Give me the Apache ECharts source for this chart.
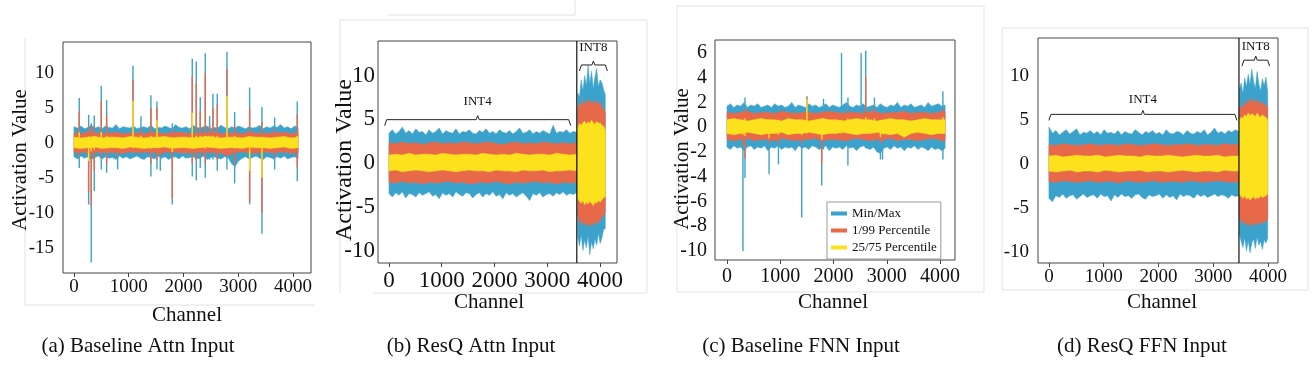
<!DOCTYPE html>
<html><head><meta charset="utf-8">
<script src="https://cdn.jsdelivr.net/npm/echarts@6/dist/echarts.min.js"></script>
<style>html,body{margin:0;padding:0;background:#fff;}#c{width:1316px;height:370px;}</style>
</head><body><div id="c"></div>
<script>
// ---------------- DATA ----------------
const statNames = ['Min/Max', '1/99 Percentile', '25/75 Percentile'];
const xTicks = [0, 1000, 2000, 3000, 4000];
const yTicksA = [-15, -10, -5, 0, 5, 10];
const yTicksB = [-10, -5, 0, 5, 10];
const yTicksC = [-10, -8, -6, -4, -2, 0, 2, 4, 6];
const yTicksD = [-10, -5, 0, 5, 10];
const captions = ['(a) Baseline Attn Input', '(b) ResQ Attn Input', '(c) Baseline FNN Input', '(d) ResQ FFN Input'];

// (a) Baseline Attn Input, channels 0..4095
const A_max = [2.3,2.1,2.4,2.0,2.2,2.5,2.1,2.3,2.0,2.4,2.2,2.1,2.6,2.0,2.3,2.2,2.1,2.4,2.0,2.2,2.3,2.1,2.5,2.0,2.2,2.1,2.4,2.2,2.0,2.6,2.2,2.1,2.3,2.0,2.5,2.2,2.1,2.3,2.4,2.0,2.2,2.1,2.5,2.2,2.0,2.3,2.1,2.4,2.2,2.0,2.3,2.1,2.2,2.5,2.0,2.3,2.1,2.4,2.2,2.6,2.1,2.3,2.0,2.4,2.2];
const A_min = [-2.0,-2.3,-1.9,-2.2,-2.0,-2.4,-2.1,-1.9,-2.3,-2.0,-2.2,-2.1,-2.4,-1.9,-2.2,-2.0,-2.3,-2.1,-1.9,-2.2,-2.4,-2.0,-2.1,-2.3,-1.9,-2.2,-2.0,-2.4,-2.1,-2.0,-2.3,-1.9,-2.2,-2.1,-2.0,-2.3,-2.2,-1.9,-2.4,-2.1,-2.0,-2.2,-2.3,-2.0,-2.1,-3.0,-3.4,-2.6,-2.2,-2.0,-2.3,-2.1,-1.9,-2.2,-2.4,-2.0,-2.1,-2.3,-2.0,-2.2,-1.9,-2.3,-2.1,-2.0,-2.2];
const A_p99 = [1.4,1.3,1.5,1.4,1.3,1.4,1.5,1.3,1.4,1.4,1.3,1.5,1.4,1.3,1.4,1.5,1.4,1.3,1.4,1.4,1.5,1.3,1.4,1.4,1.3,1.5,1.4,1.3,1.4,1.4,1.5,1.3,1.4];
const A_p1 = [-1.4,-1.3,-1.5,-1.4,-1.3,-1.4,-1.4,-1.5,-1.3,-1.4,-1.4,-1.3,-1.5,-1.4,-1.3,-1.4,-1.5,-1.4,-1.3,-1.4,-1.4,-1.5,-1.8,-1.4,-1.3,-1.4,-1.5,-1.3,-1.4,-1.4,-1.3,-1.5,-1.4];
const A_p75 = [0.8,0.7,0.8,0.9,0.7,0.8,0.8,0.7,0.9,0.8,0.7,0.8,0.8,0.9,0.7,0.8,0.8,0.7,0.8,0.9,0.8,0.7,0.8,0.8,0.7,0.9,0.8,0.8,0.7,0.8,0.9,0.7,0.8];
const A_p25 = [-0.7,-0.8,-0.7,-0.6,-0.8,-0.7,-0.7,-0.8,-0.6,-0.7,-0.8,-0.7,-0.7,-0.6,-0.8,-0.7,-0.7,-0.8,-0.7,-0.6,-0.7,-0.8,-0.7,-0.7,-0.8,-0.6,-0.7,-0.7,-0.8,-0.7,-0.6,-0.8,-0.7];
// outlier channels: [channel, min, p1, p25, p75, p99, max]
const A_spikes = [
  [97,-3.6,-2.0,-0.8,1.5,4.5,6.4],[268,-8.8,-7.0,-2.6,0.9,2.5,4.0],[316,-17.1,-9.0,-1.2,0.8,2.0,2.8],
  [371,-6.9,-4.0,-1.0,1.0,2.5,3.9],[499,-3.8,-2.0,-0.8,1.5,6.0,8.1],[597,-4.3,-3.0,-0.8,1.0,4.0,6.1],
  [798,-3.8,-2.0,-0.7,0.8,1.5,2.2],[1078,-1.8,-1.4,-0.7,6.0,9.0,11.0],[1224,-2.2,-1.4,-0.7,1.0,2.0,3.8],
  [1406,-4.8,-3.0,-0.8,1.0,5.0,6.8],[1516,-3.8,-2.5,-0.7,3.3,5.0,5.9],[1577,-4.0,-2.0,-0.7,0.8,1.5,2.2],
  [1796,-8.8,-8.0,-1.3,0.8,2.0,2.8],[2161,-4.8,-3.0,-0.8,4.3,9.5,12.0],[2234,-5.4,-2.5,-0.7,1.0,8.5,11.6],
  [2307,-3.6,-2.0,-0.7,1.0,4.5,6.5],[2399,-5.0,-3.0,-0.8,1.0,10.0,12.8],[2478,-2.4,-1.5,-0.7,1.0,2.5,3.8],
  [2539,-2.4,-1.5,-0.7,1.0,5.0,7.0],[2618,-4.0,-2.5,-0.7,1.0,5.5,7.0],[2795,-3.8,-2.0,-0.8,6.7,10.5,13.0],
  [2935,-5.8,-3.0,-0.8,1.0,2.5,4.4],[3209,-8.8,-8.5,-4.0,0.8,5.0,7.9],[3434,-13.0,-10.0,-5.0,0.8,3.0,5.1],
  [3666,-3.8,-2.0,-0.7,0.8,2.0,3.6],[4079,-5.5,-3.5,-0.7,1.0,4.0,5.9]
];

// (b) ResQ Attn Input: INT4 part and INT8 part
const B4_max = [3.4,3.8,3.3,3.6,4.1,3.4,3.7,3.3,3.9,3.5,3.6,3.2,3.8,3.4,3.6,4.0,3.3,3.7,3.5,3.4,3.9,3.3,3.6,3.5,3.8,3.4,3.3,3.7,3.5,3.9,3.4,3.6,3.3,3.8,3.5,3.4,3.7,3.3,3.6,4.0,3.4,3.5,3.8,3.3,3.6,3.4,3.7,3.5,3.3,4.3,3.4,3.6,3.5,3.8,3.4,3.6,3.5];
const B4_min = [-3.5,-3.9,-3.4,-3.7,-3.3,-4.0,-3.5,-3.6,-3.9,-3.4,-3.7,-3.5,-3.3,-3.8,-3.6,-4.1,-3.4,-3.7,-3.5,-3.9,-3.3,-3.6,-3.8,-3.4,-3.5,-4.0,-3.6,-3.4,-3.9,-3.5,-3.7,-3.3,-3.8,-3.6,-4.1,-3.4,-3.7,-3.5,-3.9,-3.6,-3.4,-3.8,-4.3,-3.5,-3.7,-3.4,-3.9,-3.6,-3.5,-3.8,-3.4,-3.6,-3.3,-3.7,-3.5,-3.6,-3.4];
const B4_p99 = [2.3,2.2,2.4,2.2,2.3,2.1,2.3,2.4,2.2,2.3,2.2,2.4,2.3,2.2,2.3,2.4,2.2,2.1,2.3,2.4,2.2,2.3,2.2,2.4,2.3,2.2,2.3,2.2,2.3];
const B4_p1 = [-2.2,-2.3,-2.1,-2.3,-2.2,-2.4,-2.2,-2.3,-2.2,-2.1,-2.3,-2.2,-2.4,-2.3,-2.2,-2.3,-2.1,-2.3,-2.4,-2.2,-2.3,-2.2,-2.1,-2.3,-2.2,-2.4,-2.2,-2.3,-2.2];
const B4_p75 = [0.9,1.0,0.9,1.1,0.9,1.0,1.0,0.9,1.1,1.0,0.9,1.0,1.0,0.9,1.1,1.0,0.9,1.0,0.9,1.1,1.0,0.9,1.0,1.0,0.9,1.1,1.0,0.9,1.0];
const B4_p25 = [-0.9,-0.8,-1.0,-0.9,-0.8,-0.9,-1.0,-0.9,-0.8,-0.9,-1.0,-0.9,-0.8,-0.9,-0.9,-1.0,-0.8,-0.9,-0.9,-1.0,-0.8,-0.9,-0.9,-0.8,-1.0,-0.9,-0.9,-0.8,-0.9];
const B8_max = [8.0,7.5,9.5,8.2,10.0,8.8,11.2,9.0,10.5,8.5,9.8,10.8,8.7,9.5,9.2,8.4,7.8];
const B8_min = [-8.5,-9.5,-8.2,-10.0,-8.8,-9.7,-8.3,-10.5,-9.0,-9.8,-8.7,-9.4,-8.0,-9.2,-8.6,-7.6,-7.5];
const B8_p99 = [6.2,6.8,6.5,7.2,6.6,7.0,7.3,6.8,7.1,6.6,7.2,6.9,6.7,7.0,6.4,6.2,5.8];
const B8_p1 = [-6.0,-6.6,-7.0,-6.5,-7.2,-6.8,-7.0,-7.3,-6.9,-7.1,-6.6,-7.0,-6.8,-6.5,-6.2,-6.0,-5.6];
const B8_p75 = [4.0,4.5,4.3,4.6,4.8,4.4,4.7,4.5,4.9,4.6,4.4,4.8,4.5,4.6,4.3,4.2,3.8];
const B8_p25 = [-4.0,-4.4,-4.6,-4.3,-4.8,-4.5,-4.7,-4.4,-4.6,-4.9,-4.5,-4.6,-4.3,-4.5,-4.2,-4.0,-3.8];
// brace annotations: [from channel, to channel, value, label, label value]
const B_braces = [[-82, 3445, 4.95, 'INT4', 7.0], [3609, 4139, 11.2, 'INT8', 13.2]];
const B_divider = [3560];

// (c) Baseline FNN Input
const C_max = [1.7,1.9,1.6,1.8,1.7,2.0,1.6,1.8,1.7,1.9,1.6,1.7,1.8,1.6,1.9,1.7,1.8,1.6,1.7,2.0,1.6,1.8,1.7,1.6,1.9,1.7,1.8,1.6,1.7,1.9,1.6,1.8,1.7,1.6,1.8,2.0,1.7,1.6,1.8,1.7,1.9,1.6,1.7,1.8,1.6,1.9,1.7,1.6,1.8,1.7,2.0,1.6,1.8,1.7,1.9,1.6,1.7,1.8,1.6,2.0,1.7,1.8,1.9,1.7,1.8];
const C_min = [-1.6,-1.8,-1.5,-1.7,-1.6,-1.9,-1.6,-1.5,-1.8,-1.6,-1.7,-1.5,-1.9,-1.6,-1.7,-1.5,-1.8,-1.6,-1.7,-1.6,-1.9,-1.5,-1.7,-1.6,-1.8,-1.5,-1.6,-1.8,-1.7,-1.5,-1.9,-1.6,-1.7,-1.6,-1.8,-1.5,-1.7,-1.6,-1.9,-1.6,-1.5,-1.7,-1.8,-1.6,-2.0,-2.1,-1.7,-1.6,-1.8,-1.5,-1.7,-1.6,-1.9,-1.6,-1.7,-1.5,-1.8,-1.6,-1.7,-1.9,-1.6,-1.8,-1.7,-1.9,-1.7];
const C_p99 = [1.2,1.1,1.2,1.3,1.1,1.2,1.2,1.1,1.3,1.2,1.1,1.2,1.2,1.1,1.2,1.3,1.2,1.1,1.2,1.2,1.1,1.3,1.2,1.1,1.2,1.2,1.3,1.1,1.2,1.2,1.1,1.2,1.3];
const C_p1 = [-1.0,-1.1,-1.0,-0.9,-1.1,-1.0,-1.0,-1.1,-0.9,-1.0,-1.1,-1.0,-1.0,-0.9,-1.1,-1.0,-1.0,-1.1,-1.0,-0.9,-1.0,-1.1,-1.0,-1.0,-0.9,-1.1,-1.0,-1.0,-1.1,-1.0,-0.9,-1.0,-1.1];
const C_p75 = [0.6,0.7,0.6,0.5,0.6,0.7,0.6,0.6,0.5,0.7,0.6,0.6,0.5,0.6,0.7,0.6,0.6,0.5,0.6,0.7,0.6,0.6,0.5,0.6,0.7,0.6,0.6,0.5,0.6,0.7,0.6,0.6,0.6];
const C_p25 = [-0.5,-0.6,-0.5,-0.4,-0.5,-0.6,-0.5,-0.5,-0.4,-0.6,-0.5,-0.5,-0.4,-0.5,-0.6,-0.5,-0.5,-0.4,-0.5,-0.6,-0.5,-0.5,-0.4,-0.5,-0.6,-0.5,-0.8,-0.5,-0.4,-0.5,-0.6,-0.5,-0.5];
const C_spikes = [
  [300,-10.0,-1.5,-0.6,0.6,1.2,1.8],[338,-4.1,-2.5,-0.7,0.7,1.5,2.4],[790,-3.8,-1.3,-0.9,0.6,1.1,1.7],
  [966,-3.0,-1.3,-0.6,0.6,1.1,1.7],[1403,-7.3,-1.3,-0.6,0.6,1.1,1.7],[1500,-1.6,-1.0,-0.5,2.3,2.4,2.5],
  [1778,-4.7,-3.0,-1.0,0.6,1.1,1.7],[1812,-1.8,-1.1,-0.5,0.7,1.3,2.3],[2150,-1.7,-1.0,-0.5,0.6,1.2,6.0],
  [2270,-3.1,-1.2,-0.5,0.7,1.4,2.4],[2518,-1.6,-1.0,-0.5,0.6,1.2,6.0],[2604,-1.7,-1.0,-0.5,0.8,4.1,6.2],
  [2768,-1.7,-1.0,-0.5,0.7,1.6,2.4],[2880,-2.6,-1.3,-0.8,0.6,1.1,1.7],[2920,-2.6,-1.2,-0.6,0.6,1.1,1.7],
  [4053,-2.6,-1.2,-0.5,0.8,1.5,2.9]
];

// (d) ResQ FFN Input
const D4_max = [4.2,3.5,3.8,3.3,3.6,3.9,3.4,3.7,4.0,3.3,3.6,3.5,3.8,3.4,3.7,3.3,3.9,3.5,3.6,3.4,3.8,3.3,3.7,3.5,3.4,3.9,3.6,3.3,3.7,3.5,3.8,3.4,3.6,3.3,3.9,3.5,3.4,3.7,3.6,3.3,3.8,3.5,3.4,3.7,3.5,3.9,3.3,3.6,4.1,3.5,3.7,3.4,3.8,3.6,3.9,3.7];
const D4_min = [-3.9,-4.3,-3.6,-3.8,-3.4,-3.9,-3.6,-3.5,-4.0,-3.7,-3.4,-3.8,-3.6,-3.5,-3.9,-3.4,-3.7,-3.6,-4.2,-3.5,-3.8,-3.4,-3.7,-3.6,-3.9,-3.5,-3.4,-3.8,-4.0,-3.5,-3.7,-3.6,-3.4,-3.9,-3.5,-3.8,-3.6,-4.1,-3.4,-3.7,-3.5,-3.6,-3.9,-3.4,-3.7,-3.5,-3.8,-3.6,-3.4,-3.7,-3.5,-3.6,-3.9,-3.5,-3.7,-3.6];
const D4_p99 = [2.2,2.1,2.3,2.2,2.1,2.2,2.3,2.1,2.2,2.2,2.1,2.3,2.2,2.1,2.2,2.3,2.2,2.1,2.2,2.2,2.3,2.1,2.2,2.2,2.1,2.3,2.2,2.2];
const D4_p1 = [-2.0,-2.1,-1.9,-2.0,-2.1,-2.0,-1.9,-2.1,-2.0,-2.0,-2.2,-1.9,-2.0,-2.1,-2.0,-1.9,-2.1,-2.0,-2.0,-2.1,-1.9,-2.0,-2.1,-2.0,-1.9,-2.0,-2.1,-2.0];
const D4_p75 = [0.9,1.0,0.8,0.9,1.0,0.9,0.9,1.0,0.8,0.9,1.0,0.9,0.9,0.8,1.0,0.9,0.9,1.0,0.9,0.8,0.9,1.0,0.9,0.9,1.0,0.8,0.9,0.9];
const D4_p25 = [-0.8,-0.9,-0.8,-0.7,-0.9,-0.8,-0.8,-0.9,-0.7,-0.8,-0.9,-0.8,-0.8,-0.7,-0.9,-0.8,-0.8,-0.9,-0.8,-0.7,-0.8,-0.9,-0.8,-0.8,-0.9,-0.7,-0.8,-0.8];
const D8_max = [8.5,9.2,8.0,9.8,8.8,10.2,9.0,10.8,9.4,8.6,10.5,9.1,8.3,9.7,8.9,9.9,8.2];
const D8_min = [-8.0,-8.8,-9.5,-8.4,-9.9,-8.7,-10.1,-9.0,-8.5,-9.6,-8.3,-9.2,-8.8,-9.7,-8.6,-9.0,-8.4];
const D8_p99 = [6.2,6.6,6.4,7.0,6.8,7.3,7.0,7.5,7.1,6.9,7.4,7.0,6.8,7.1,6.6,6.8,6.4];
const D8_p1 = [-6.0,-6.4,-6.8,-6.5,-7.0,-6.7,-7.1,-6.8,-6.6,-7.0,-6.9,-6.6,-6.8,-6.7,-6.5,-6.6,-6.2];
const D8_p75 = [5.0,5.3,5.2,5.6,5.4,5.8,5.5,5.7,5.6,5.4,5.8,5.5,5.3,5.6,5.4,5.3,5.0];
const D8_p25 = [-3.4,-3.7,-3.9,-3.6,-4.0,-3.8,-4.1,-3.9,-3.7,-4.0,-3.8,-3.9,-3.6,-3.8,-3.7,-3.6,-3.4];
const D_braces = [[0, 3432, 5.64, 'INT4', 7.35], [3524, 4030, 11.8, 'INT8', 13.3]];
const D_divider = [3470];

// ---------------- STYLE / LAYOUT ----------------
const SERIF = '"Liberation Serif","Times New Roman",Times,serif';
const COL = ['#3BA3CB', '#E8694A', '#FBE21D'];
const AX = '#444';

const panels = [
  { grid:{left:63, top:42, width:248, height:231}, x:[-200,4330], y:[-18.6,14.4], yTicks:yTicksA, fs:19, ym:9, xm:5,
    segs:[{s:0,e:4095,hi:[A_max,A_p99,A_p75],lo:[A_min,A_p1,A_p25]}], spikes:A_spikes, braces:[], divider:[],
    xname:{x:187,y:315,fs:21}, yname:{x:20,y:160,fs:21}, caption:{x:138,y:346} },
  { grid:{left:378, top:41, width:239, height:222}, x:[-208,4322], y:[-11.43,13.94], yTicks:yTicksB, fs:23, ym:3, xm:6,
    segs:[{s:0,e:3555,hi:[B4_max,B4_p99,B4_p75],lo:[B4_min,B4_p1,B4_p25]},{s:3578,e:4100,hi:[B8_max,B8_p99,B8_p75],lo:[B8_min,B8_p1,B8_p25]}],
    spikes:[], braces:B_braces, divider:B_divider,
    xname:{x:489,y:302,fs:21}, yname:{x:345,y:160,fs:24}, caption:{x:471,y:346} },
  { grid:{left:715, top:40, width:240, height:220}, x:[-225,4280], y:[-10.73,7.05], yTicks:yTicksC, fs:20, ym:8, xm:7,
    segs:[{s:0,e:4095,hi:[C_max,C_p99,C_p75],lo:[C_min,C_p1,C_p25]}], spikes:C_spikes, braces:[], divider:[],
    xname:{x:833,y:302,fs:21}, yname:{x:682,y:159,fs:21}, caption:{x:801,y:346} },
  { grid:{left:1038, top:38, width:240, height:225}, x:[-200,4183], y:[-11.25,14.32], yTicks:yTicksD, fs:19, ym:9, xm:5,
    segs:[{s:0,e:3465,hi:[D4_max,D4_p99,D4_p75],lo:[D4_min,D4_p1,D4_p25]},{s:3478,e:3995,hi:[D8_max,D8_p99,D8_p75],lo:[D8_min,D8_p1,D8_p25]}],
    spikes:[], braces:D_braces, divider:D_divider,
    xname:{x:1162,y:302,fs:21}, yname:null, caption:{x:1142,y:346} }
];

function bandRender(p, k) {
  // k: 0 min/max, 1 p1/p99, 2 p25/p75 ; spike columns lo = 1+k, hi = 6-k
  return function (params, api) {
    if (params.dataIndex !== 0) return null;
    const children = [];
    p.segs.forEach(seg => {
      const hi = seg.hi[k], lo = seg.lo[k], pts = [];
      for (let i = 0; i < hi.length; i++) pts.push(api.coord([seg.s + (seg.e - seg.s) * i / (hi.length - 1), hi[i]]));
      for (let i = lo.length - 1; i >= 0; i--) pts.push(api.coord([seg.s + (seg.e - seg.s) * i / (lo.length - 1), lo[i]]));
      children.push({ type:'polygon', shape:{ points:pts }, style:{ fill:COL[k], stroke:COL[k], lineWidth:0.5 } });
    });
    p.spikes.forEach(s => {
      const a = api.coord([s[0], s[1 + k]]), b = api.coord([s[0], s[6 - k]]);
      children.push({ type:'line', shape:{ x1:a[0], y1:a[1], x2:b[0], y2:b[1] }, style:{ stroke:COL[k], lineWidth:1.4 } });
    });
    return { type:'group', children };
  };
}

function annotRender(p) {
  return function (params, api) {
    if (params.dataIndex !== 0) return null;
    const cs = params.coordSys, children = [];
    p.divider.forEach(ch => {
      const x = api.coord([ch, 0])[0];
      children.push({ type:'line', shape:{ x1:x, y1:cs.y, x2:x, y2:cs.y + cs.height }, style:{ stroke:'#111', lineWidth:1.2 } });
    });
    p.braces.forEach(b => {
      const l = api.coord([b[0], b[2]]), r = api.coord([b[1], b[2]]);
      const m = api.coord([(b[0] + b[1]) / 2, b[2]]);
      const t = api.coord([(b[0] + b[1]) / 2, b[4]]);
      children.push({ type:'polyline', shape:{ points:[[l[0], l[1] + 6], [l[0] + 2, l[1]], [m[0] - 1.5, m[1]], [m[0], m[1] - 4], [m[0] + 1.5, m[1]], [r[0] - 2, r[1]], [r[0], r[1] + 6]] },
        style:{ stroke:'#222', lineWidth:1, fill:null } });
      children.push({ type:'text', x:t[0], y:t[1], style:{ text:b[3], fontFamily:SERIF, fontSize:13, fill:'#111', align:'center', verticalAlign:'middle' } });
    });
    return { type:'group', children };
  };
}

const plain = v => String(v);
const option = { animation:false, backgroundColor:'#fff', grid:[], xAxis:[], yAxis:[], series:[], graphic:[] };

panels.forEach((p, i) => {
  option.grid.push(Object.assign({ show:true, borderColor:AX, borderWidth:1, backgroundColor:'transparent' }, p.grid));
  option.xAxis.push({ gridIndex:i, type:'value', min:p.x[0], max:p.x[1], position:'bottom',
    axisLine:{ show:false, onZero:false }, splitLine:{ show:false },
    axisTick:{ show:true, length:4, lineStyle:{ color:AX }, customValues:xTicks },
    axisLabel:{ customValues:xTicks, formatter:plain, fontFamily:SERIF, fontSize:p.fs, color:'#111', margin:p.xm } });
  option.yAxis.push({ gridIndex:i, type:'value', min:p.y[0], max:p.y[1], position:'left',
    axisLine:{ show:false, onZero:false }, splitLine:{ show:false },
    axisTick:{ show:false },
    axisLabel:{ customValues:p.yTicks, formatter:plain, fontFamily:SERIF, fontSize:p.fs, color:'#111', margin:p.ym } });
  for (let k = 0; k < 3; k++) {
    option.series.push({ type:'custom', name:statNames[k], xAxisIndex:i, yAxisIndex:i, data:[[0, 0]],
      itemStyle:{ color:COL[k] }, renderItem:bandRender(p, k), silent:true });
  }
  if (p.braces.length || p.divider.length) {
    option.series.push({ type:'custom', xAxisIndex:i, yAxisIndex:i, data:[[0, 0]], renderItem:annotRender(p), silent:true, z:5 });
  }
  option.graphic.push({ type:'text', x:p.xname.x, y:p.xname.y, style:{ text:'Channel', fontFamily:SERIF, fontSize:p.xname.fs, fill:'#111', align:'center', verticalAlign:'middle' } });
  if (p.yname) option.graphic.push({ type:'text', x:p.yname.x, y:p.yname.y, rotation:Math.PI / 2, style:{ text:'Activation Value', fontFamily:SERIF, fontSize:p.yname.fs, fill:'#111', align:'center', verticalAlign:'middle' } });
  option.graphic.push({ type:'text', x:p.caption.x, y:p.caption.y, style:{ text:captions[i], fontFamily:SERIF, fontSize:21, fill:'#111', align:'center', verticalAlign:'middle' } });
});

// faint frames of the cropped sub-figures
const FR = '#e2e2e2';
[[25,38,25,305],[25,305,315,305],
 [340,20,647,20],[647,20,647,293],[340,20,340,293],[373,293,647,293],[388,15,575,15],[575,0,575,15],
 [677,6,984,6],[984,6,984,292],[677,6,677,292],[677,292,984,292],
 [1002,28,1308,28],[1308,28,1308,290],[1002,28,1002,290],[1002,290,1308,290]].forEach(l => {
  option.graphic.push({ type:'line', shape:{ x1:l[0], y1:l[1], x2:l[2], y2:l[3] }, style:{ stroke:FR, lineWidth:1 }, z:-1 });
});

option.legend = { data:statNames.map((n, k) => ({ name:n, itemStyle:{ color:COL[k] } })), orient:'vertical', left:827, top:202,
  icon:'rect', itemWidth:16, itemHeight:4, itemGap:4, selectedMode:false,
  backgroundColor:'#fff', borderColor:'#999', borderWidth:1, padding:[5, 4, 5, 4],
  textStyle:{ fontFamily:SERIF, fontSize:13, color:'#111' } };

const chart = echarts.init(document.getElementById('c'), null, { renderer:'canvas' });
chart.setOption(option);
</script></body></html>
